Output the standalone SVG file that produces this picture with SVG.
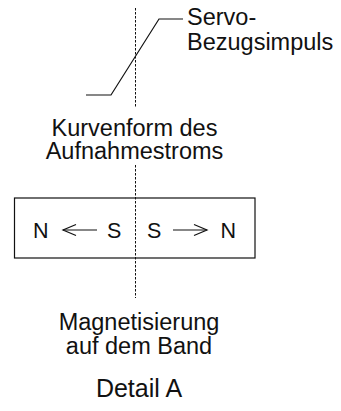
<svg xmlns="http://www.w3.org/2000/svg" width="341" height="411" viewBox="0 0 341 411">
<style>
text{font-family:"Liberation Sans",Arial,sans-serif;font-size:23.5px;fill:#111}
.c{text-anchor:middle}
.p{font-size:21.5px}
.ln{fill:none;stroke:#111;stroke-width:1.2}
.dash{fill:none;stroke:#111;stroke-width:1;stroke-dasharray:2.5,1.5}
</style>
<rect width="341" height="411" fill="#fff"/>
<g id="connectors">
<line class="dash" x1="135.5" y1="8" x2="135.5" y2="108"/>
<line class="dash" x1="135.5" y1="165" x2="135.5" y2="298"/>
<polyline class="ln" points="86,95 111,95 159,19 183,19"/>
<line class="ln" x1="63" y1="230" x2="97" y2="230"/>
<polyline class="ln" points="76,224.5 63,230 76,235.5"/>
<line class="ln" x1="173" y1="230" x2="207" y2="230"/>
<polyline class="ln" points="194,224.5 207,230 194,235.5"/>
</g>
<g id="servo">
<text x="187" y="25">Servo-</text>
<text x="187" y="50">Bezugsimpuls</text>
</g>
<g id="kurvenform">
<text class="c" x="134.5" y="135.5">Kurvenform des</text>
<text class="c" x="134.5" y="159">Aufnahmestroms</text>
</g>
<g id="band">
<rect class="ln" x="14.5" y="198" width="240.5" height="60"/>
<text class="p" x="33" y="237.5">N</text>
<text class="p" x="107" y="237.5">S</text>
<text class="p" x="147" y="237.5">S</text>
<text class="p" x="220.5" y="237.5">N</text>
</g>
<g id="magnetisierung">
<text class="c" x="139" y="330">Magnetisierung</text>
<text class="c" x="139" y="354">auf dem Band</text>
</g>
<g id="detail">
<text class="c" x="139" y="397" style="font-size:25px">Detail A</text>
</g>
</svg>
